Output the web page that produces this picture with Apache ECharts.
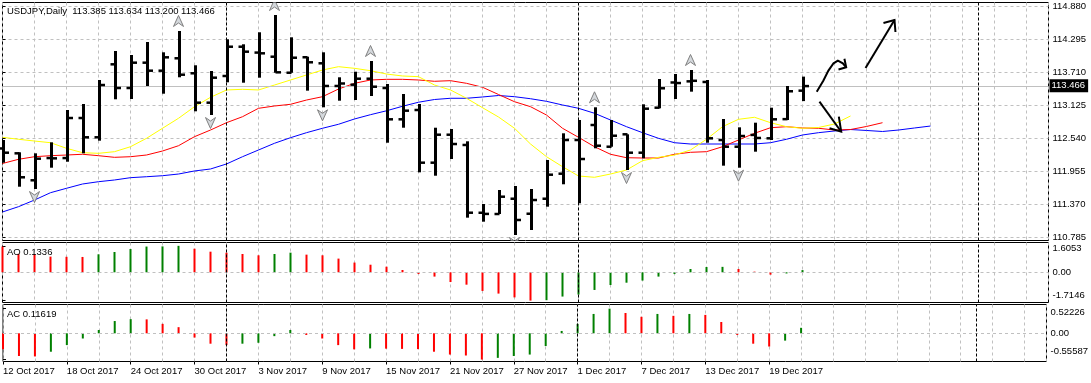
<!DOCTYPE html>
<html><head><meta charset="utf-8">
<script src="https://cdn.jsdelivr.net/npm/echarts@6/dist/echarts.min.js"></script>
<style>html,body{margin:0;padding:0;background:#fff}#c{width:1091px;height:383px}</style>
</head><body><div id="c"></div>
<script>
const dates = ['12 Oct 2017','13 Oct 2017','16 Oct 2017','17 Oct 2017','18 Oct 2017','19 Oct 2017','20 Oct 2017','23 Oct 2017','24 Oct 2017','25 Oct 2017','26 Oct 2017','27 Oct 2017','30 Oct 2017','31 Oct 2017',
 '1 Nov 2017','2 Nov 2017','3 Nov 2017','6 Nov 2017','7 Nov 2017','8 Nov 2017','9 Nov 2017','10 Nov 2017','13 Nov 2017','14 Nov 2017','15 Nov 2017','16 Nov 2017','17 Nov 2017','20 Nov 2017','21 Nov 2017','22 Nov 2017','23 Nov 2017','24 Nov 2017','27 Nov 2017','28 Nov 2017','29 Nov 2017','30 Nov 2017',
 '1 Dec 2017','4 Dec 2017','5 Dec 2017','6 Dec 2017','7 Dec 2017','8 Dec 2017','11 Dec 2017','12 Dec 2017','13 Dec 2017','14 Dec 2017','15 Dec 2017','18 Dec 2017','19 Dec 2017','20 Dec 2017','21 Dec 2017'];
const open  = [112.360,112.274,111.796,112.190,112.190,112.900,112.558,113.852,113.432,113.881,113.739,113.959,113.693,113.172,113.645,114.164,114.060,113.987,113.703,113.977,113.870,113.468,113.491,113.597,113.432,112.877,113.042,112.108,112.604,112.422,111.220,111.198,111.469,111.203,111.469,111.913,112.510,112.776,112.391,112.611,112.285,113.083,113.530,113.550,113.539,112.510,112.391,112.600,112.540,112.880,113.385];
const high  = [112.510,112.292,112.274,112.469,113.042,113.148,113.574,114.088,114.017,114.248,114.065,114.443,113.835,113.734,114.296,114.207,114.420,114.726,114.331,113.987,114.065,113.622,113.721,113.911,113.503,113.326,113.148,112.728,112.705,112.487,111.375,111.624,111.695,111.641,112.156,112.629,112.865,113.090,112.865,112.611,113.143,113.592,113.680,113.751,113.574,112.883,112.735,112.817,113.083,113.468,113.634];
const low   = [112.108,111.682,111.641,112.019,112.125,112.274,112.498,113.232,113.237,113.468,113.331,113.622,113.019,112.953,113.533,113.526,113.615,113.703,113.703,113.385,113.090,113.207,113.219,113.290,112.462,112.728,111.937,111.877,112.173,111.133,111.062,111.198,110.826,110.914,111.328,111.725,111.388,112.363,112.391,111.978,112.186,113.072,113.237,113.367,112.462,112.055,112.019,112.303,112.510,112.865,113.200];
const close = [112.285,111.849,112.179,112.185,112.900,112.558,113.485,113.432,113.881,113.739,113.976,113.668,113.172,113.615,114.164,114.076,114.047,113.710,113.969,113.888,113.468,113.512,113.597,113.455,112.877,113.030,112.108,112.604,112.439,111.221,111.200,111.505,111.092,111.446,111.895,112.510,112.173,112.409,112.586,112.285,113.065,113.427,113.520,113.560,112.540,112.391,112.581,112.546,112.877,113.374,113.466];
// Alligator-style averages (yellow, red, blue); they run past the last bar
const lips  = [112.558,112.523,112.492,112.462,112.363,112.285,112.274,112.303,112.391,112.540,112.718,112.895,113.101,113.267,113.397,113.409,113.397,113.485,113.574,113.663,113.751,113.810,113.781,113.739,113.680,113.645,113.633,113.485,113.397,113.250,113.083,112.918,112.718,112.439,112.214,112.037,111.872,111.849,111.907,111.978,112.143,112.203,112.244,112.333,112.523,112.746,112.877,112.913,112.817,112.746,112.718,112.732,112.794,112.936];
const teeth = [112.094,112.168,112.214,112.232,112.244,112.257,112.232,112.203,112.214,112.244,112.315,112.409,112.569,112.687,112.817,112.923,113.072,113.113,113.143,113.219,113.278,113.414,113.515,113.574,113.586,113.586,113.574,113.551,113.562,113.515,113.445,113.317,113.189,113.101,112.953,112.718,112.558,112.391,112.257,112.196,112.191,112.191,112.257,112.292,112.303,112.391,112.510,112.629,112.728,112.746,112.723,112.718,112.687,112.696,112.750,112.817];
const jaw   = [111.234,111.328,111.446,111.576,111.654,111.730,111.771,111.801,111.842,111.859,111.877,111.907,111.961,111.996,112.085,112.214,112.333,112.452,112.551,112.640,112.718,112.789,112.883,112.959,113.028,113.108,113.180,113.228,113.250,113.250,113.273,113.299,113.278,113.242,113.196,113.131,113.072,112.984,112.865,112.746,112.640,112.540,112.462,112.439,112.439,112.439,112.439,112.439,112.462,112.523,112.599,112.640,112.670,112.696,112.679,112.661,112.687,112.723,112.758];
const ao = [1.56,1.12,1.10,0.95,0.94,0.93,1.09,1.23,1.41,1.56,1.57,1.6053,1.43,1.25,1.19,1.11,1.03,1.11,1.19,1.07,1.03,0.83,0.59,0.46,0.34,0.14,-0.10,-0.26,-0.59,-0.75,-1.13,-1.29,-1.52,-1.7146,-1.69,-1.47,-1.35,-1.07,-0.77,-0.63,-0.50,-0.26,-0.10,0.20,0.32,0.33,0.20,0.04,-0.14,-0.07,0.1336];
const ac = [-0.34,-0.48,-0.49,-0.39,-0.25,-0.11,0.07,0.26,0.30,0.295,0.20,0.13,-0.09,-0.22,-0.25,-0.22,-0.20,-0.06,0.07,-0.035,-0.11,-0.25,-0.34,-0.32,-0.325,-0.33,-0.335,-0.39,-0.45,-0.47,-0.55587,-0.52,-0.48,-0.45,-0.27,0.05,0.20,0.41,0.52226,0.43,0.35,0.41,0.37,0.41,0.39,0.24,-0.035,-0.22,-0.28,-0.155,0.11619];
const priceTicks = [110.785,111.370,111.955,112.540,113.125,113.710,114.295,114.880];
const fractalUp = [11,17,23,37,43];
const fractalDown = [2,13,20,32,39,46];
const separators = [14,36,61];
const dateTickIdx = [0,4,8,12,16,20,24,28,32,36,40,44,48];
// hand-drawn annotation strokes, in [bar index, price]
const annoCurve = [[50.89,113.367],[51.30,113.560],[51.62,113.740],[51.94,113.870],[52.21,113.916],[52.52,113.870],[52.73,113.799]];
const annoCurveHead = [[52.25,113.760],[52.73,113.799],[52.62,113.950]];
const annoUp = [[53.94,113.787],[55.75,114.638]];
const annoUpHead = [[55.06,114.585],[55.75,114.638],[55.81,114.425]];
const annoDown = [[51.06,113.189],[52.42,112.657]];
const annoDownHead = [[51.69,112.718],[52.42,112.657],[52.27,112.923]];

const FONT = 'Liberation Sans, Arial, sans-serif';
const FS = 9.5;
const XMAX = 65.375;
const GRID = '#c0c0c0';
const last = close.length - 1;
const aoMax = Math.max(...ao), aoMin = Math.min(...ao);
const acMax = Math.max(...ac), acMin = Math.min(...ac);
const txt = {fontFamily: FONT, fontSize: FS, color: '#000'};
const UP_PATH = 'M5,0 L10,11 L5,7.5 L0,11 Z';
const DOWN_PATH = 'M0,0 L5,3.5 L10,0 L5,11 Z';

function xAxisBase(g) {
  return {type:'value', gridIndex:g, min:0, max:XMAX, interval:2,
    axisLine:{show:false}, axisTick:{show:false}, axisLabel:{show:false},
    splitLine:{show:true, lineStyle:{color:GRID, type:[3,3], width:1}}};
}
function histColor(arr) {
  return p => (p.dataIndex > 0 && arr[p.dataIndex] > arr[p.dataIndex-1]) ? '#008000' : '#ff0000';
}
function sepLine() {
  return {silent:true, symbol:'none', label:{show:false}, animation:false,
    lineStyle:{color:'#000', type:[3,2], width:1},
    data: separators.map(v => ({xAxis:v}))};
}
function stroke(pts) { return {coords: pts}; }
function fractalSeries(name, idx, src, path, dy) {
  return {type:'custom', name:name, xAxisIndex:0, yAxisIndex:0, z:4, clip:true, silent:true,
    data: idx.map(i => [i, src[i]]),
    renderItem:(params, api) => {
      const p = api.coord([api.value(0), api.value(1)]);
      return {type:'path', shape:{pathData:path, x:p[0]-5, y:p[1]+dy-5.5, width:10, height:11},
        style:{fill:'#d4d8dc', stroke:'#808080', lineWidth:1}};
    }};
}

const chart = echarts.init(document.getElementById('c'), null, {renderer:'canvas'});
chart.setOption({
  animation:false,
  backgroundColor:'#fff',
  title:[
    {text:'USDJPY,Daily  ' + [open[last],high[last],low[last],close[last]].map(v=>v.toFixed(3)).join(' '), left:7, top:6, padding:0, textStyle:Object.assign({fontWeight:'normal'}, txt)},
    {text:'AO ' + ao[last].toFixed(4), left:7, top:247, padding:0, textStyle:Object.assign({fontWeight:'normal'}, txt)},
    {text:'AC ' + ac[last].toFixed(5), left:7, top:309, padding:0, textStyle:Object.assign({fontWeight:'normal'}, txt)}
  ],
  grid:[
    {left:2.5, right:42.5, top:2.5, height:238, show:true, borderColor:'#000', borderWidth:1, backgroundColor:'#fff'},
    {left:2.5, right:42.5, top:242.5, height:60, show:true, borderColor:'#000', borderWidth:1, backgroundColor:'#fff'},
    {left:2.5, right:42.5, top:304.5, height:57, show:true, borderColor:'#000', borderWidth:1, backgroundColor:'#fff'}
  ],
  xAxis:[
    xAxisBase(0), xAxisBase(1), xAxisBase(2),
    {type:'value', gridIndex:2, min:0, max:XMAX, position:'bottom',
      axisLine:{show:false}, splitLine:{show:false},
      axisTick:{show:true, customValues:dateTickIdx, length:3, lineStyle:{color:'#000'}},
      axisLabel:Object.assign({show:true, customValues:dateTickIdx, formatter:v => dates[v] || '', align:'left', margin:5}, txt)}
  ],
  yAxis:[
    {type:'value', gridIndex:0, position:'right', min:110.7283, max:114.948, scale:true,
      axisLine:{show:false},
      axisTick:{show:true, customValues:priceTicks, length:3, lineStyle:{color:'#000'}},
      axisLabel:Object.assign({customValues:priceTicks, formatter:v => v.toFixed(3), margin:4}, txt),
      splitLine:{show:true, lineStyle:{color:GRID, type:[3,3], width:1}}},
    {type:'value', gridIndex:1, position:'right', min:-1.830, max:1.806,
      axisLine:{show:false},
      axisTick:{show:true, customValues:[aoMax,0,aoMin], length:3, lineStyle:{color:'#000'}},
      axisLabel:Object.assign({customValues:[aoMax,0,aoMin], margin:4,
        formatter:v => v > 0 ? '{t|' + aoMax.toFixed(4) + '}' : (v < 0 ? '{b|' + aoMin.toFixed(4) + '}' : '0.00'),
        rich:{t:Object.assign({padding:[6,0,0,0]}, txt), b:Object.assign({padding:[0,0,10,0]}, txt)}}, txt),
      splitLine:{show:false}},
    {type:'value', gridIndex:2, position:'right', min:-0.597, max:0.610,
      axisLine:{show:false},
      axisTick:{show:true, customValues:[acMax,0,acMin], length:3, lineStyle:{color:'#000'}},
      axisLabel:Object.assign({customValues:[acMax,0,acMin], margin:4,
        formatter:v => v > 0 ? '{t|' + acMax.toFixed(5) + '}' : (v < 0 ? '{b|' + acMin.toFixed(5) + '}' : '0.00'),
        rich:{t:Object.assign({padding:[8,0,0,0]}, txt), b:Object.assign({padding:[0,0,17,0]}, txt)}}, txt),
      splitLine:{show:false}}
  ],
  series:[
    {type:'line', name:'jaw', xAxisIndex:0, yAxisIndex:0, z:2, showSymbol:false, symbol:'none',
      data: jaw.map((v,i)=>[i,v]), lineStyle:{color:'#0000ff', width:1}, silent:true,
      markLine:{silent:true, symbol:'none', animation:false,
        data:[{yAxis: close[last]}],
        lineStyle:{color:'#c0c0c0', type:'solid', width:1},
        label:{show:true, position:'end', distance:1, formatter: close[last].toFixed(3),
          backgroundColor:'#000', color:'#fff', fontFamily:FONT, fontSize:FS, padding:[2,3,1,2]}}},
    {type:'line', name:'sep0', xAxisIndex:0, yAxisIndex:0, z:1, data:[], markLine:sepLine()},
    {type:'line', name:'teeth', xAxisIndex:0, yAxisIndex:0, z:3, showSymbol:false, symbol:'none',
      data: teeth.map((v,i)=>[i,v]), lineStyle:{color:'#ff0000', width:1}, silent:true},
    {type:'line', name:'lips', xAxisIndex:0, yAxisIndex:0, z:3, showSymbol:false, symbol:'none',
      data: lips.map((v,i)=>[i,v]), lineStyle:{color:'#ffff00', width:1}, silent:true},
    {type:'custom', name:'USDJPY', xAxisIndex:0, yAxisIndex:0, z:5,
      data: dates.map((d,i)=>[i, open[i], high[i], low[i], close[i]]),
      renderItem:(params, api) => {
        const x = api.value(0);
        const o = api.coord([x, api.value(1)]);
        const h = api.coord([x, api.value(2)]);
        const l = api.coord([x, api.value(3)]);
        const c = api.coord([x, api.value(4)]);
        const cx = Math.round(h[0]) + 0.5;
        const st = {stroke:'#000', lineWidth:3, lineCap:'butt'};
        return {type:'group', children:[
          {type:'line', shape:{x1:cx, y1:h[1], x2:cx, y2:l[1]}, style:st},
          {type:'line', shape:{x1:cx-5, y1:o[1], x2:cx, y2:o[1]}, style:{stroke:'#000', lineWidth:2.5}},
          {type:'line', shape:{x1:cx, y1:c[1], x2:cx+5.5, y2:c[1]}, style:{stroke:'#000', lineWidth:2.5}}
        ]};
      }},
    fractalSeries('fractalUp', fractalUp, high, UP_PATH, -10),
    fractalSeries('fractalDown', fractalDown, low, DOWN_PATH, 8),
    {type:'lines', name:'annotations', coordinateSystem:'cartesian2d', xAxisIndex:0, yAxisIndex:0, z:6,
      polyline:true, silent:true,
      lineStyle:{color:'#000', width:2, opacity:1},
      data:[stroke(annoCurve), stroke(annoCurveHead), stroke(annoUp), stroke(annoUpHead), stroke(annoDown), stroke(annoDownHead)]},
    {type:'bar', name:'AO', xAxisIndex:1, yAxisIndex:1, barWidth:2, z:3,
      data: ao.map((v,i)=>[i,v]), itemStyle:{color: histColor(ao)},
      markLine:{silent:true, symbol:'none', animation:false, label:{show:false},
        lineStyle:{color:GRID, type:[3,3], width:1}, data:[{yAxis:0}]}},
    {type:'line', name:'sep1', xAxisIndex:1, yAxisIndex:1, z:1, data:[], markLine:sepLine()},
    {type:'bar', name:'AC', xAxisIndex:2, yAxisIndex:2, barWidth:2, z:3,
      data: ac.map((v,i)=>[i,v]), itemStyle:{color: histColor(ac)},
      markLine:{silent:true, symbol:'none', animation:false, label:{show:false},
        lineStyle:{color:GRID, type:[3,3], width:1}, data:[{yAxis:0}]}},
    {type:'line', name:'sep2', xAxisIndex:2, yAxisIndex:2, z:1, data:[], markLine:sepLine()}
  ]
});
</script>
</body></html>
